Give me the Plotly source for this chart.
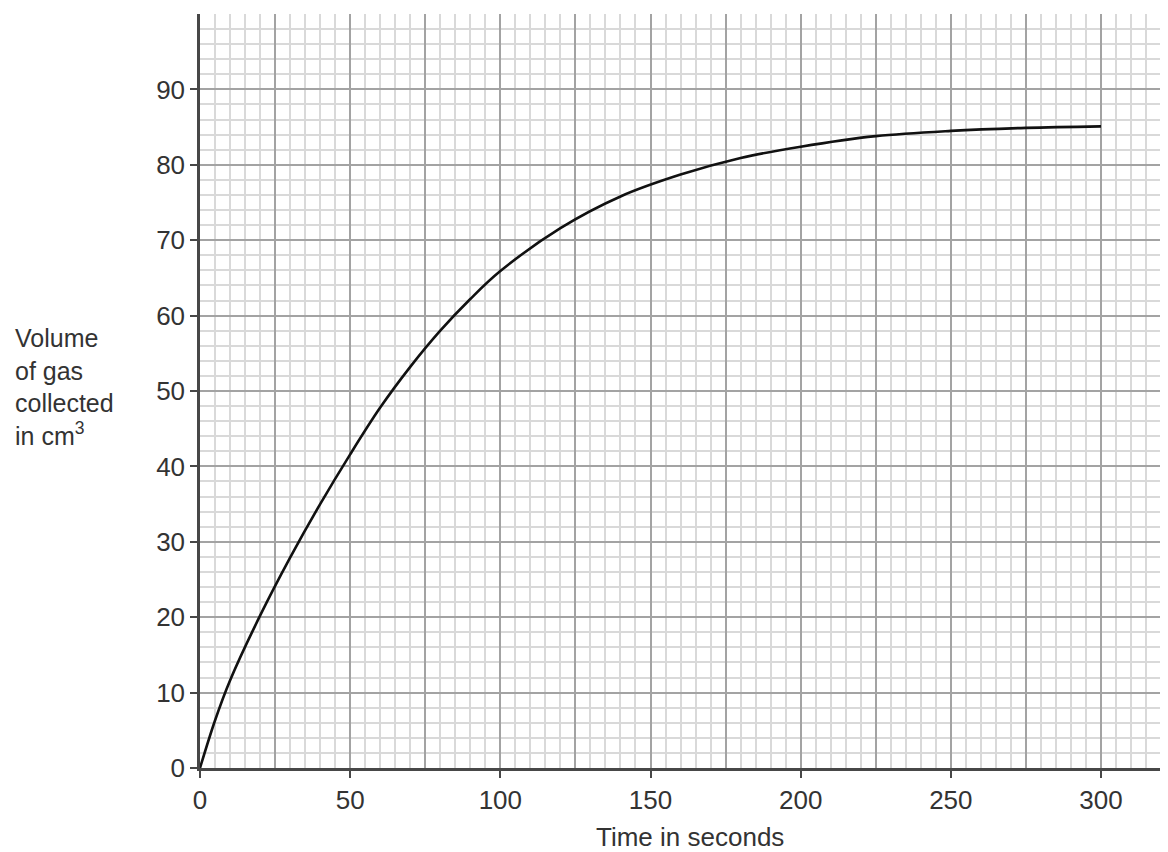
import plotly.graph_objects as go

# Data
time_s = [0, 5, 10, 20, 30, 40, 50, 60, 70, 80, 90, 100, 120, 140, 160, 180, 200, 225, 250, 275, 300]
volume_cm3 = [0, 6.3, 11.6, 20.2, 27.9, 35.0, 41.6, 47.8, 53.2, 58.0, 62.2, 65.9, 71.6, 75.8, 78.7,
              80.9, 82.4, 83.8, 84.5, 84.9, 85.1]

x_tick_vals = [0, 50, 100, 150, 200, 250, 300]
x_tick_text = ["0", "50", "100", "150", "200", "250", "300"]
y_tick_vals = [0, 10, 20, 30, 40, 50, 60, 70, 80, 90]
y_tick_text = ["0", "10", "20", "30", "40", "50", "60", "70", "80", "90"]

x_title = "Time in seconds"
y_title = "Volume<br>of gas<br>collected<br>in cm<sup>3</sup>"

X_RANGE = [0, 322.3]
Y_RANGE = [0, 100]

FONT = "Liberation Sans, Arial, sans-serif"
MAJOR = "#a3a3a3"
MINOR = "#d9d9d9"
AXIS = "#474747"
TEXT = "#333333"

fig = go.Figure()

# grid carrier (overlay axes) - empty trace
fig.add_trace(go.Scatter(x=[], y=[], xaxis="x2", yaxis="y2", showlegend=False, hoverinfo="skip"))

fig.add_trace(go.Scatter(
    x=time_s, y=volume_cm3, mode="lines",
    line=dict(color="#111111", width=2.6, shape="spline", smoothing=1.0),
    showlegend=False,
))

# the page body has an 8px default margin, so the figure is sized/placed to compensate
fig.update_layout(
    width=1160, height=844,
    margin=dict(l=192, r=0, t=6, b=84),
    paper_bgcolor="white", plot_bgcolor="white",
    font=dict(family=FONT, size=26, color=TEXT),
    xaxis=dict(
        range=X_RANGE, tickvals=x_tick_vals, ticktext=x_tick_text,
        ticks="outside", ticklen=7, tickwidth=1.5, tickcolor=AXIS,
        showgrid=False, zeroline=False,
        showline=True, linecolor=AXIS, linewidth=2.5,
        tickfont=dict(size=26, color=TEXT),
        fixedrange=True,
    ),
    yaxis=dict(
        range=Y_RANGE, tickvals=y_tick_vals, ticktext=y_tick_text,
        ticks="outside", ticklen=7, tickwidth=1.5, tickcolor=AXIS,
        showgrid=False, zeroline=False,
        showline=True, linecolor=AXIS, linewidth=2.5,
        tickfont=dict(size=26, color=TEXT),
        fixedrange=True,
    ),
    xaxis2=dict(
        range=X_RANGE, overlaying="x", anchor="y2", side="bottom",
        tick0=0, dtick=25, showticklabels=False, ticks="",
        showgrid=True, gridcolor=MAJOR, gridwidth=1.6,
        minor=dict(dtick=5, showgrid=True, gridcolor=MINOR, gridwidth=1.6, ticks=""),
        zeroline=False, showline=False, fixedrange=True,
    ),
    yaxis2=dict(
        range=Y_RANGE, overlaying="y", anchor="x2", side="left",
        tick0=0, dtick=10, showticklabels=False, ticks="",
        showgrid=True, gridcolor=MAJOR, gridwidth=1.6,
        minor=dict(dtick=2, showgrid=True, gridcolor=MINOR, gridwidth=1.6, ticks=""),
        zeroline=False, showline=False, fixedrange=True,
    ),
    annotations=[
        dict(text=x_title, xref="x", yref="paper", x=163, y=0,
             xanchor="center", yanchor="middle", yshift=-69, showarrow=False,
             font=dict(size=26, color=TEXT, family=FONT)),
        dict(text=y_title, xref="paper", yref="paper", x=-0.1932, y=0.505,
             xanchor="left", yanchor="middle", align="left", showarrow=False,
             font=dict(size=25, color=TEXT, family=FONT)),
    ],
)

fig.write_html("out.html")
